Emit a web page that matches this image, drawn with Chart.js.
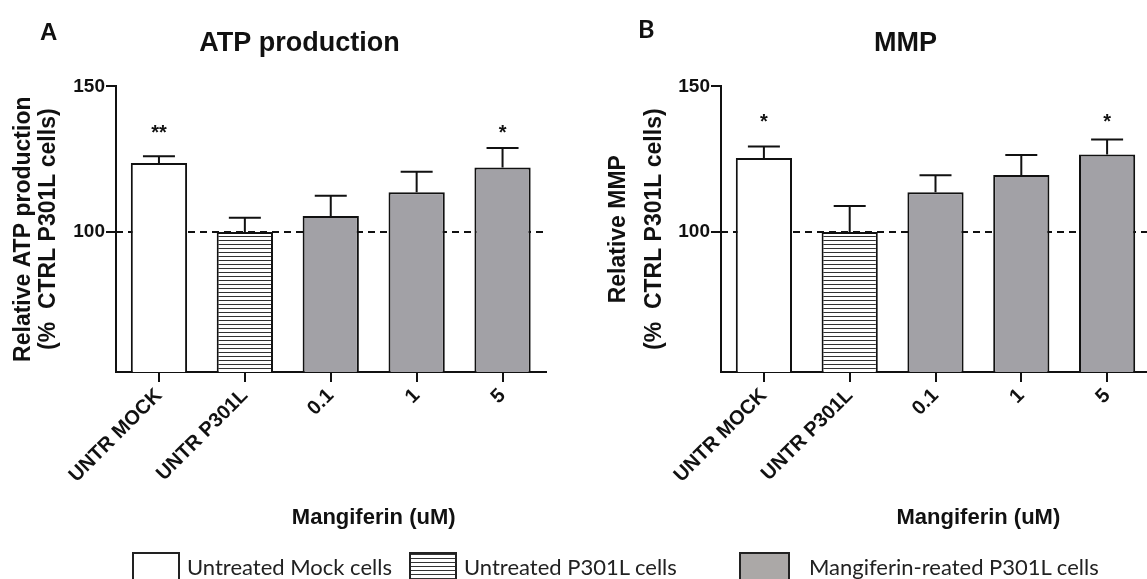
<!DOCTYPE html>
<html>
<head>
<meta charset="utf-8">
<script src="https://cdn.jsdelivr.net/npm/chart.js@4.4.1/dist/chart.umd.min.js"></script>
<style>
html, body { margin: 0; padding: 0; background: #fff; }
body { width: 1147px; height: 579px; overflow: hidden; position: relative; font-family: "Liberation Sans", Arial, sans-serif; }
canvas { position: absolute; top: 0; }
#chartA { left: 0; }
#chartB { left: 600px; }
.panel { position: absolute; font-weight: bold; line-height: 1; color: #111; }
#panelA { left: 40px; top: 20px; font-size: 24px; }
#panelB { left: 638px; top: 16px; font-size: 25px; font-family: Lato, sans-serif; }
#legend { position: absolute; left: 132px; top: 552px; display: flex; align-items: flex-start; font-family: Lato, sans-serif; font-size: 22px; color: #222; }
.sw { width: 48px; height: 40px; border: 2px solid #222; box-sizing: border-box; margin-right: 7px; }
.sw0 { background: #fff; }
.sw1 { background: repeating-linear-gradient(to bottom, #333 0, #333 1px, #fff 1px, #fff 4px); }
.sw2 { background: #aba8a7; width: 51px; margin-right: 19px; }
.lt { line-height: 30px; white-space: nowrap; }
.lt0 { width: 204px; margin-right: 18px; }
.lt1 { width: 253px; margin-right: 22px; }
</style>
</head>
<body>
<canvas id="chartA" width="599" height="579"></canvas>
<canvas id="chartB" width="611" height="579"></canvas>
<div class="panel" id="panelA">A</div>
<div class="panel" id="panelB">B</div>
<div id="legend"></div>
<script>
// values
const categories = ['UNTR MOCK', 'UNTR P301L', '0.1', '1', '5'];
const groupOf = [0, 1, 2, 2, 2];
const yTicks = [100, 150];

const atpValues = [123.7, 100, 105.5, 113.7, 122.2];
const atpSem = [2.3, 4.9, 7.0, 7.0, 6.7];
const atpStars = ['**', '', '', '', '*'];
const atpStarAt = [132, null, null, null, 132];

const mmpValues = [125.4, 100, 113.7, 119.6, 126.6];
const mmpSem = [4.0, 9.0, 5.8, 6.9, 5.2];
const mmpStars = ['*', '', '', '', '*'];
const mmpStarAt = [135.7, null, null, null, 135.7];

const legendLabels = ['Untreated Mock cells', 'Untreated P301L cells', 'Mangiferin-reated P301L cells'];

Chart.defaults.font.family = '"Liberation Sans", Arial, sans-serif';
Chart.defaults.color = '#111';

function hatch() {
    const c = document.createElement('canvas');
    c.width = 8; c.height = 4;
    const g = c.getContext('2d');
    g.fillStyle = '#fff';
    g.fillRect(0, 0, 8, 4);
    g.fillStyle = '#333';
    g.fillRect(0, 0, 8, 1);
    return g.createPattern(c, 'repeat');
}
const fills = ['#ffffff', hatch(), '#a2a1a6'];

// dashed 100% line, error bars, stars and the x title
const extras = {
    id: 'extras',
    beforeDatasetsDraw(chart, args, opts) {
        const {ctx, chartArea, scales: {y}} = chart;
        const yy = y.getPixelForValue(opts.refLine);
        ctx.save();
        ctx.strokeStyle = '#111';
        ctx.lineWidth = 2;
        ctx.setLineDash([7, 5]);
        ctx.beginPath();
        ctx.moveTo(chartArea.left, yy);
        ctx.lineTo(chartArea.right, yy);
        ctx.stroke();
        ctx.restore();
    },
    afterDatasetsDraw(chart, args, opts) {
        const {ctx, chartArea, scales: {x, y}} = chart;
        const vals = chart.data.datasets[0].data;
        ctx.save();
        ctx.strokeStyle = '#111';
        ctx.fillStyle = '#111';
        ctx.lineWidth = 2;
        ctx.font = 'bold 20px "Liberation Sans", Arial';
        ctx.textAlign = 'center';
        chart.getDatasetMeta(0).data.forEach((bar, i) => {
            const top = y.getPixelForValue(vals[i] + opts.sem[i]);
            ctx.beginPath();
            ctx.moveTo(bar.x, bar.y);
            ctx.lineTo(bar.x, top);
            ctx.moveTo(bar.x - 16, top);
            ctx.lineTo(bar.x + 16, top);
            ctx.stroke();
            if (opts.stars[i]) {
                ctx.fillText(opts.stars[i], bar.x, y.getPixelForValue(opts.starAt[i]));
            }
        });
        ctx.font = 'bold 22px "Liberation Sans", Arial';
        ctx.fillText(opts.xTitle, x.getPixelForValue(2.5), chartArea.bottom + 152);
        ctx.restore();
    }
};

function makeChart(id, title, yTitle, values, sem, stars, starAt, p) {
    const ctx = document.getElementById(id).getContext('2d');
    return new Chart(ctx, {
        type: 'bar',
        data: {
            labels: categories,
            datasets: [{
                data: values,
                backgroundColor: groupOf.map(g => fills[g]),
                borderColor: '#111',
                borderWidth: 2,
                borderSkipped: false,
                categoryPercentage: 1,
                barPercentage: 0.655
            }]
        },
        options: {
            responsive: false,
            animation: false,
            devicePixelRatio: 1,
            layout: { padding: 0 },
            plugins: {
                legend: { display: false },
                tooltip: { enabled: false },
                title: {
                    display: true,
                    text: title,
                    font: { size: 27, weight: 'bold', lineHeight: 1.2 },
                    color: '#111',
                    padding: { top: 27, bottom: 27 }
                },
                extras: { refLine: 100, sem: sem, stars: stars, starAt: starAt, xTitle: 'Mangiferin (uM)' }
            },
            scales: {
                x: {
                    grid: { display: true, drawOnChartArea: false, offset: false, tickLength: 10, color: '#111', lineWidth: 2 },
                    border: { display: true, color: '#111', width: 2 },
                    ticks: { autoSkip: false, minRotation: 45, maxRotation: 45, padding: 2, color: '#111', font: { size: 20, weight: 'bold' } },
                    afterFit(s) { s.height = 207; }
                },
                y: {
                    min: 52,
                    max: 150,
                    afterBuildTicks(s) { s.ticks = yTicks.map(v => ({ value: v })); },
                    grid: { display: true, drawOnChartArea: false, tickLength: 10, color: '#111', lineWidth: 2 },
                    border: { display: true, color: '#111', width: 2 },
                    ticks: { padding: 1, color: '#111', font: { size: 19, weight: 'bold' } },
                    title: {
                        display: true,
                        text: yTitle,
                        color: '#111',
                        font: { size: 23, weight: 'bold', lineHeight: p.titleLine },
                        padding: { top: p.titlePad, bottom: 0 }
                    },
                    afterFit(s) { s.width = p.yWidth; }
                },
                spacer: {
                    position: 'right',
                    display: true,
                    grid: { display: false, drawTicks: false },
                    border: { display: false },
                    ticks: { display: false },
                    afterFit(s) { s.width = p.spacer; }
                }
            }
        },
        plugins: [extras]
    });
}

makeChart('chartA', 'ATP production', ['Relative ATP production', '(%  CTRL P301L cells)'],
    atpValues, atpSem, atpStars, atpStarAt, { yWidth: 116, spacer: 53.5, titleLine: 1.1, titlePad: 11 });
makeChart('chartB', 'MMP', ['Relative MMP', '(%  CTRL P301L cells)'],
    mmpValues, mmpSem, mmpStars, mmpStarAt, { yWidth: 121, spacer: 61, titleLine: 1.556, titlePad: 1 });

// legend shared by both panels
const legend = document.getElementById('legend');
legendLabels.forEach((label, i) => {
    const sw = document.createElement('span');
    sw.className = 'sw sw' + i;
    const t = document.createElement('span');
    t.className = 'lt lt' + i;
    t.textContent = label;
    legend.appendChild(sw);
    legend.appendChild(t);
});
</script>
</body>
</html>
